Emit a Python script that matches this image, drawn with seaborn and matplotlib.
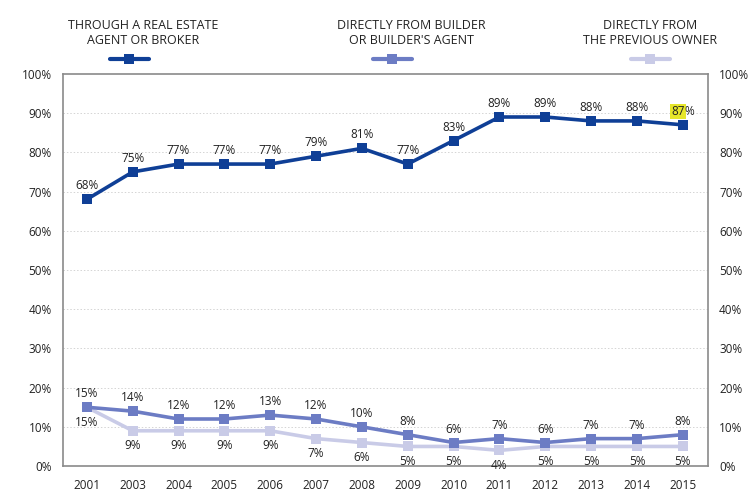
import pandas as pd
import matplotlib.pyplot as plt
import seaborn as sns
from matplotlib.lines import Line2D
from matplotlib.ticker import FixedLocator

sns.set_theme(style="white")
plt.rcParams['font.family'] = ['Open Sans', 'DejaVu Sans']

# data
years = ['2001', '2003', '2004', '2005', '2006', '2007', '2008',
         '2009', '2010', '2011', '2012', '2013', '2014', '2015']
agent = [68, 75, 77, 77, 77, 79, 81, 77, 83, 89, 89, 88, 88, 87]
builder = [15, 14, 12, 12, 13, 12, 10, 8, 6, 7, 6, 7, 7, 8]
owner = [15, 9, 9, 9, 9, 7, 6, 5, 5, 4, 5, 5, 5, 5]
series_names = ['THROUGH A REAL ESTATE\nAGENT OR BROKER',
                "DIRECTLY FROM BUILDER\nOR BUILDER'S AGENT",
                'DIRECTLY FROM\nTHE PREVIOUS OWNER']
colors = ['#0f3f96', '#6c7cc4', '#c9cbe7']

fig = plt.figure(figsize=(7.5, 4.99), dpi=100)
ax = fig.add_axes([0.084, 0.066, 0.860, 0.786])

x = list(range(len(years)))
# draw lightest first so darker lines sit on top
for vals, col in [(owner, colors[2]), (builder, colors[1]), (agent, colors[0])]:
    df = pd.DataFrame({'x': x, 'v': vals})
    sns.lineplot(data=df, x='x', y='v', color=col, lw=2.6, marker='s',
                 markersize=7, markeredgewidth=0, ax=ax)

# value labels
for i, v in enumerate(agent):
    if i == len(agent) - 1:
        ax.annotate('87', (i, v), xytext=(1.2, 5), textcoords='offset points',
                    ha='right', va='bottom', fontsize=8.5, color='#222222',
                    bbox=dict(boxstyle='square,pad=0.1', fc='#e6e62a', ec='none'))
        ax.annotate('%', (i, v), xytext=(1.2, 5), textcoords='offset points',
                    ha='left', va='bottom', fontsize=8.5, color='#222222')
    else:
        ax.annotate(f'{v}%', (i, v), xytext=(0, 5), textcoords='offset points',
                    ha='center', va='bottom', fontsize=8.5, color='#222222')
for i, v in enumerate(builder):
    ax.annotate(f'{v}%', (i, v), xytext=(0, 5), textcoords='offset points',
                ha='center', va='bottom', fontsize=8.5, color='#222222')
for i, v in enumerate(owner):
    ax.annotate(f'{v}%', (i, v), xytext=(0, -6), textcoords='offset points',
                ha='center', va='top', fontsize=8.5, color='#222222')

ax.set_xlim(-0.52, 13.55)
ax.set_ylim(0, 100)
ax.set_xticks(x)
ax.set_xticklabels(years, fontsize=8.5, color='#222222')
ax.xaxis.set_minor_locator(FixedLocator([i + 0.5 for i in x[:-1]]))
ax.tick_params(axis='x', which='major', length=0, pad=9)
ax.tick_params(axis='x', which='minor', direction='in', length=5, width=0.9, color='#888888')
ax.set_yticks(range(0, 101, 10))
ax.set_yticklabels([f'{t}%' for t in range(0, 101, 10)], fontsize=8.5, color='#222222')
ax.tick_params(axis='y', length=0, pad=8, labelright=True, right=False)
ax.set_xlabel('')
ax.set_ylabel('')
for t in range(10, 100, 10):
    ax.axhline(t, color='#d4d4d4', lw=0.7, ls=(0, (1.5, 2)), zorder=0)
for s in ax.spines.values():
    s.set_color('#8a8a8a')
    s.set_linewidth(1.2)

# legend header
text_x = [0.191, 0.548, 0.867]
sample_x = [0.172, 0.523, 0.867]
for name, col, tx, sx in zip(series_names, colors, text_x, sample_x):
    fig.text(tx, 0.934, name, ha='center', va='center', fontsize=9,
             color='#222222', linespacing=1.15)
    fig.add_artist(Line2D([sx - 0.026, sx + 0.026], [0.882, 0.882], color=col, lw=3,
                          transform=fig.transFigure))
    fig.add_artist(Line2D([sx], [0.882], color=col, marker='s', markersize=7,
                          markeredgewidth=0, transform=fig.transFigure))

fig.savefig('out.png', dpi=100)
